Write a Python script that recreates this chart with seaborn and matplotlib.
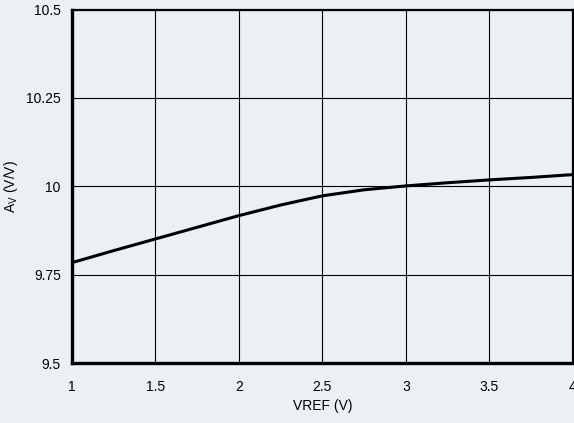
import matplotlib
matplotlib.use("Agg")
import matplotlib.pyplot as plt
import seaborn as sns
import pandas as pd

vref = [1.0, 1.25, 1.5, 1.75, 2.0, 2.25, 2.5, 2.75, 3.0, 3.25, 3.5, 3.75, 4.0]
av = [9.784, 9.818, 9.851, 9.884, 9.917, 9.947, 9.973, 9.990, 10.001, 10.010, 10.018, 10.025, 10.033]
xticks = [1, 1.5, 2, 2.5, 3, 3.5, 4]
xtick_labels = ["1", "1.5", "2", "2.5", "3", "3.5", "4"]
yticks = [9.5, 9.75, 10, 10.25, 10.5]
ytick_labels = ["9.5", "9.75", "10", "10.25", "10.5"]

df = pd.DataFrame({"VREF": vref, "AV": av})

sns.set_theme(style="white")
plt.rcParams["font.family"] = ["Liberation Sans", "DejaVu Sans"]

bg = "#ebf0f5"
fig = plt.figure(figsize=(5.74, 4.23), dpi=100, facecolor=bg)
ax = fig.add_axes([0.1254, 0.1418, 0.8726, 0.8357])
ax.set_facecolor(bg)

sns.lineplot(data=df, x="VREF", y="AV", ax=ax, color="black", linewidth=2.2)

ax.set_xlim(1, 4)
ax.set_ylim(9.5, 10.5)
ax.set_xticks(xticks)
ax.set_xticklabels(xtick_labels)
ax.set_yticks(yticks)
ax.set_yticklabels(ytick_labels)
ax.grid(True, color="black", linewidth=0.8)
ax.tick_params(axis="both", length=0, labelsize=10, colors="black", pad=8)
ax.tick_params(axis="x", pad=12)

for side in ["left", "bottom"]:
    ax.spines[side].set_linewidth(2.4)
for side in ["top", "right"]:
    ax.spines[side].set_linewidth(1.6)
for s in ax.spines.values():
    s.set_color("black")
    s.set_visible(True)

ax.set_xlabel("VREF (V)", fontsize=10, color="black", labelpad=4)
ax.set_ylabel("A$_\\mathregular{V}$ (V/V)", fontsize=10, color="black")
ax.yaxis.set_label_coords(-0.104, 0.5)

fig.savefig("out.png", dpi=100, facecolor=bg)
